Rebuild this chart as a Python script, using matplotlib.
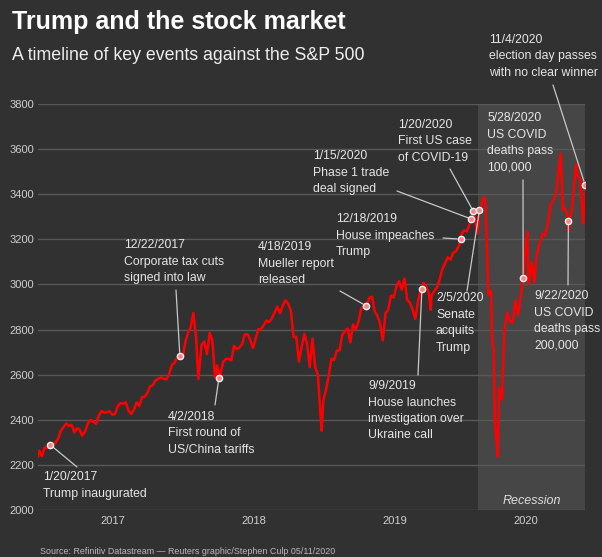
import matplotlib
matplotlib.use("Agg")
import matplotlib.pyplot as plt
import matplotlib.dates as mdates
import numpy as np
import pandas as pd

plt.rcParams['font.family'] = ['Liberation Sans', 'DejaVu Sans']

# S&P 500 closes (weekly, plus a few key days)
dates_2017 = ["2016-12-20", "2016-12-23", "2016-12-30",
              "2017-01-06", "2017-01-13", "2017-01-20", "2017-01-27",
              "2017-02-03", "2017-02-10", "2017-02-17", "2017-02-24",
              "2017-03-03", "2017-03-10", "2017-03-17", "2017-03-24", "2017-03-31",
              "2017-04-07", "2017-04-13", "2017-04-21", "2017-04-28",
              "2017-05-05", "2017-05-12", "2017-05-19", "2017-05-26",
              "2017-06-02", "2017-06-09", "2017-06-16", "2017-06-23", "2017-06-30",
              "2017-07-07", "2017-07-14", "2017-07-21", "2017-07-28",
              "2017-08-04", "2017-08-11", "2017-08-18", "2017-08-25",
              "2017-09-01", "2017-09-08", "2017-09-15", "2017-09-22", "2017-09-29",
              "2017-10-06", "2017-10-13", "2017-10-20", "2017-10-27",
              "2017-11-03", "2017-11-10", "2017-11-17", "2017-11-24",
              "2017-12-01", "2017-12-08", "2017-12-15", "2017-12-22", "2017-12-29"]
close_2017 = [2238, 2263, 2239,
              2277, 2275, 2290, 2295,
              2297, 2316, 2351, 2367,
              2383, 2373, 2378, 2344, 2363,
              2355, 2329, 2349, 2384,
              2399, 2391, 2382, 2416,
              2439, 2432, 2433, 2438, 2423,
              2425, 2459, 2473, 2472,
              2477, 2441, 2426, 2444,
              2477, 2461, 2500, 2502, 2519,
              2549, 2553, 2575, 2581,
              2588, 2582, 2579, 2602,
              2642, 2652, 2676, 2683, 2674]

dates_2018 = ["2018-01-05", "2018-01-12", "2018-01-19", "2018-01-26",
              "2018-02-02", "2018-02-08", "2018-02-16", "2018-02-23",
              "2018-03-02", "2018-03-09", "2018-03-16", "2018-03-23", "2018-03-29",
              "2018-04-02", "2018-04-06", "2018-04-13", "2018-04-20", "2018-04-27",
              "2018-05-04", "2018-05-11", "2018-05-18", "2018-05-25",
              "2018-06-01", "2018-06-08", "2018-06-15", "2018-06-22", "2018-06-29",
              "2018-07-06", "2018-07-13", "2018-07-20", "2018-07-27",
              "2018-08-03", "2018-08-10", "2018-08-17", "2018-08-24", "2018-08-31",
              "2018-09-07", "2018-09-14", "2018-09-21", "2018-09-28",
              "2018-10-05", "2018-10-12", "2018-10-19", "2018-10-26",
              "2018-11-02", "2018-11-09", "2018-11-16", "2018-11-23", "2018-11-30",
              "2018-12-07", "2018-12-14", "2018-12-21", "2018-12-24", "2018-12-28"]
close_2018 = [2743, 2786, 2810, 2873,
              2762, 2581, 2732, 2747,
              2691, 2786, 2752, 2588, 2641,
              2585, 2604, 2656, 2670, 2670,
              2663, 2728, 2713, 2721,
              2735, 2779, 2780, 2755, 2718,
              2760, 2801, 2802, 2819,
              2840, 2833, 2850, 2875, 2902,
              2872, 2905, 2930, 2914,
              2885, 2767, 2768, 2658,
              2723, 2781, 2736, 2633, 2760,
              2633, 2600, 2417, 2351, 2486]

dates_2019 = ["2019-01-04", "2019-01-11", "2019-01-18", "2019-01-25",
              "2019-02-01", "2019-02-08", "2019-02-15", "2019-02-22",
              "2019-03-01", "2019-03-08", "2019-03-15", "2019-03-22", "2019-03-29",
              "2019-04-05", "2019-04-12", "2019-04-18", "2019-04-26",
              "2019-05-03", "2019-05-10", "2019-05-17", "2019-05-24", "2019-05-31",
              "2019-06-07", "2019-06-14", "2019-06-21", "2019-06-28",
              "2019-07-05", "2019-07-12", "2019-07-19", "2019-07-26",
              "2019-08-02", "2019-08-09", "2019-08-16", "2019-08-23", "2019-08-30",
              "2019-09-06", "2019-09-09", "2019-09-13", "2019-09-20", "2019-09-27",
              "2019-10-02", "2019-10-04", "2019-10-11", "2019-10-18", "2019-10-25",
              "2019-11-01", "2019-11-08", "2019-11-15", "2019-11-22", "2019-11-29",
              "2019-12-06", "2019-12-13", "2019-12-18", "2019-12-20", "2019-12-27"]
close_2019 = [2532, 2596, 2671, 2665,
              2707, 2708, 2776, 2793,
              2804, 2743, 2822, 2801, 2834,
              2893, 2907, 2905, 2940,
              2946, 2881, 2860, 2826, 2752,
              2873, 2887, 2950, 2942,
              2990, 3014, 2977, 3026,
              2932, 2919, 2889, 2847, 2926,
              2979, 2978, 3007, 2992, 2962,
              2887, 2952, 2970, 2986, 3023,
              3067, 3093, 3120, 3110, 3141,
              3146, 3169, 3201, 3221, 3240]

dates_2020 = ["2020-01-03", "2020-01-10", "2020-01-15", "2020-01-17", "2020-01-24", "2020-01-31",
              "2020-02-05", "2020-02-07", "2020-02-14", "2020-02-19", "2020-02-21", "2020-02-28",
              "2020-03-06", "2020-03-09", "2020-03-13", "2020-03-16", "2020-03-20", "2020-03-23",
              "2020-03-27",
              "2020-04-03", "2020-04-09", "2020-04-17", "2020-04-24",
              "2020-05-01", "2020-05-08", "2020-05-15", "2020-05-22", "2020-05-28",
              "2020-06-05", "2020-06-08", "2020-06-11", "2020-06-19", "2020-06-26",
              "2020-07-02", "2020-07-10", "2020-07-17", "2020-07-24", "2020-07-31",
              "2020-08-07", "2020-08-14", "2020-08-21", "2020-08-28",
              "2020-09-02", "2020-09-08", "2020-09-11", "2020-09-18", "2020-09-22", "2020-09-23",
              "2020-10-02", "2020-10-09", "2020-10-12", "2020-10-16", "2020-10-23", "2020-10-30",
              "2020-11-03", "2020-11-04"]
close_2020 = [3235, 3265, 3290, 3329, 3295, 3226,
              3330, 3328, 3380, 3386, 3338, 2954,
              2972, 2747, 2711, 2386, 2305, 2237,
              2541,
              2489, 2790, 2875, 2837,
              2831, 2930, 2864, 2955, 3030,
              3194, 3232, 3002, 3098, 3009,
              3130, 3185, 3225, 3216, 3271,
              3351, 3373, 3397, 3508,
              3580, 3332, 3341, 3319, 3280, 3237,
              3348, 3477, 3534, 3483, 3465, 3270,
              3369, 3443]

event_dates = ["2017-01-20", "2017-12-22", "2018-04-02", "2019-04-18", "2019-09-09",
               "2019-12-18", "2020-01-15", "2020-01-20", "2020-02-05", "2020-05-28",
               "2020-09-22", "2020-11-04"]
event_values = [2290, 2683, 2585, 2905, 2978, 3201, 3290, 3325, 3330, 3030, 3280, 3443]
event_labels = ["1/20/2017\nTrump inaugurated",
                "12/22/2017\nCorporate tax cuts\nsigned into law",
                "4/2/2018\nFirst round of\nUS/China tariffs",
                "4/18/2019\nMueller report\nreleased",
                "9/9/2019\nHouse launches\ninvestigation over\nUkraine call",
                "12/18/2019\nHouse impeaches\nTrump",
                "1/15/2020\nPhase 1 trade\ndeal signed",
                "1/20/2020\nFirst US case\nof COVID-19",
                "2/5/2020\nSenate\nacquits\nTrump",
                "5/28/2020\nUS COVID\ndeaths pass\n100,000",
                "9/22/2020\nUS COVID\ndeaths pass\n200,000",
                "11/4/2020\nelection day passes\nwith no clear winner"]

# layout (pixels): label top-left and leader line start
label_xy = [(43, 477), (124, 245), (168, 417), (258, 247), (368, 386), (336, 219),
            (313, 156), (398, 125), (436, 298), (487, 118), (534, 296), (489, 40)]
leader_xy = [(77, 467), (176, 290), (215, 405), (340, 291), (418, 375), (443, 238),
             (397, 191), (450, 169), (467, 291), (523, 180), (568, 285), (553, 85)]

year_labels = ["2017", "2018", "2019", "2020"]
year_pos = ["2017-07-02", "2018-07-02", "2019-07-02", "2020-06-03"]

for d, c in [(dates_2017, close_2017), (dates_2018, close_2018),
             (dates_2019, close_2019), (dates_2020, close_2020)]:
    assert len(d) == len(c)

dates = pd.to_datetime(dates_2017 + dates_2018 + dates_2019 + dates_2020)
closes = np.array(close_2017 + close_2018 + close_2019 + close_2020)

BG = '#313131'
W, H = 602, 557

fig = plt.figure(figsize=(W / 100, H / 100), dpi=100, facecolor=BG)
ax = fig.add_axes([38 / W, 1 - 510 / H, (585 - 38) / W, (510 - 104) / H])
ax.set_facecolor(BG)

ax.axvspan(pd.Timestamp("2020-02-01"), pd.Timestamp("2020-11-04"),
           color='#464646', lw=0, zorder=0.1)
ax.plot(dates, closes, color='#ff0000', lw=1.8, zorder=3)

ev = pd.to_datetime(event_dates)
ax.plot(ev, event_values, 'o', ms=4.5, mfc='#f08a8a', mec='#f2f2f2', mew=1, zorder=5)

for i in range(len(event_dates)):
    lx, ly = leader_xy[i]
    ax.annotate('', xy=(mdates.date2num(ev[i]), event_values[i]), xycoords='data',
                xytext=(lx / W, 1 - ly / H), textcoords='figure fraction',
                arrowprops=dict(arrowstyle='-', color='#c8c8c8', lw=0.9,
                                shrinkA=0, shrinkB=2.5),
                annotation_clip=False, zorder=4)
    tx, ty = label_xy[i]
    fig.text(tx / W, 1 - (ty - 6) / H, event_labels[i], ha='left', va='top',
             fontsize=8.8, color='#e6e6e6', linespacing=1.5)

ax.set_xlim(pd.Timestamp("2016-12-20"), pd.Timestamp("2020-11-04"))
ax.set_ylim(2000, 3800)
ax.set_yticks(range(2000, 3801, 200))
ax.set_xticks(pd.to_datetime(year_pos))
ax.set_xticklabels(year_labels)
ax.grid(axis='y', color='#585858', lw=1)
ax.set_axisbelow(True)
for s in ax.spines.values():
    s.set_visible(False)
ax.tick_params(length=0, labelsize=8, colors='#cfcfcf', pad=4)
ax.tick_params(axis='y', pad=3)

ax.text(pd.Timestamp("2020-06-20"), 2040, "Recession", ha='center', va='center',
        fontsize=9, style='italic', color='#dddddd')

fig.text(12 / W, 1 - 22 / H, "Trump and the stock market", fontsize=18,
         weight='bold', color='white', va='center')
fig.text(12 / W, 1 - 55 / H, "A timeline of key events against the S&P 500",
         fontsize=12.8, color='#eeeeee', va='center')
fig.text(40 / W, 1 - 551 / H,
         "Source: Refinitiv Datastream \u2014 Reuters graphic/Stephen Culp 05/11/2020",
         fontsize=6.4, color='#bbbbbb', va='center')

fig.savefig('out.png', dpi=100, facecolor=BG)
